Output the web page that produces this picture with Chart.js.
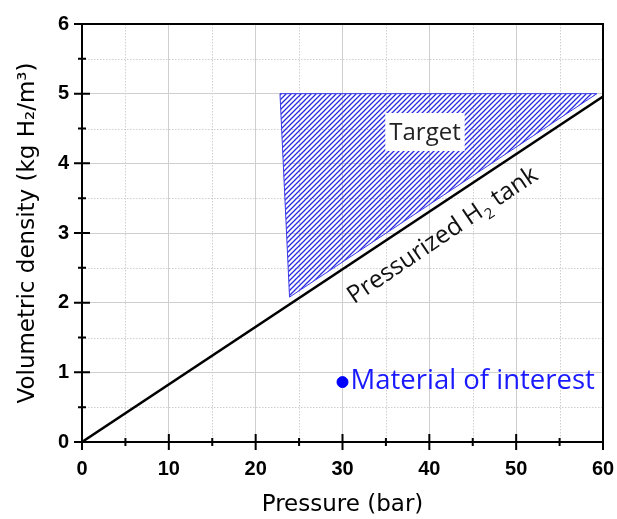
<!DOCTYPE html>
<html lang="en">
<head>
<meta charset="UTF-8">
<title>Volumetric density vs pressure</title>
<script src="https://cdn.jsdelivr.net/npm/chart.js"></script>
<style>
  html, body { margin: 0; padding: 0; background: #fff; }
  #wrap { width: 617px; height: 519px; }
</style>
</head>
<body>
<div id="wrap"><canvas id="densityChart" width="617" height="519"></canvas></div>
<script>
// chart data
const tankPressure = [0, 60];
const tankDensity = [0, 4.96];
const targetPressure = [22.8, 59.3, 23.9, 22.8];
const targetDensity = [5.0, 5.0, 2.08, 5.0];
const materialPressure = [30];
const materialDensity = [0.86];
const xMajorTicks = [0, 10, 20, 30, 40, 50, 60];
const xMinorTicks = [5, 15, 25, 35, 45, 55];
const yMajorTicks = [0, 1, 2, 3, 4, 5, 6];
const yMinorTicks = [0.5, 1.5, 2.5, 3.5, 4.5, 5.5];

const toPoints = (xs, ys) => xs.map((x, i) => ({ x: x, y: ys[i] }));

// hatch pattern for the target region
function hatchPattern() {
    const s = 5;
    const c = document.createElement('canvas');
    c.width = s; c.height = s;
    const g = c.getContext('2d');
    g.strokeStyle = '#2a2ae0';
    g.lineWidth = 1.3;
    g.beginPath();
    g.moveTo(0, s); g.lineTo(s, 0);
    g.moveTo(-1, 1); g.lineTo(1, -1);
    g.moveTo(s - 1, s + 1); g.lineTo(s + 1, s - 1);
    g.stroke();
    return g.createPattern(c, 'repeat');
}

const labelFont = '"Open Sans", "Noto Sans", sans-serif';

// minor grid, frame, ticks and text labels
const decorations = {
    id: 'decorations',
    beforeDatasetsDraw(chart) {
        const { ctx, chartArea: a, scales: { x, y } } = chart;
        ctx.save();
        ctx.strokeStyle = '#cfcfcf';
        ctx.lineWidth = 1;
        ctx.setLineDash([1.5, 1.5]);
        ctx.beginPath();
        xMinorTicks.forEach(v => { const px = Math.round(x.getPixelForValue(v)) + 0.5; ctx.moveTo(px, a.top); ctx.lineTo(px, a.bottom); });
        yMinorTicks.forEach(v => { const py = Math.round(y.getPixelForValue(v)) + 0.5; ctx.moveTo(a.left, py); ctx.lineTo(a.right, py); });
        ctx.stroke();
        ctx.restore();
    },
    afterDatasetsDraw(chart) {
        const { ctx, chartArea: a, scales: { x, y } } = chart;
        ctx.save();
        // frame
        ctx.strokeStyle = '#000';
        ctx.lineWidth = 2;
        ctx.strokeRect(a.left, a.top, a.right - a.left, a.bottom - a.top);
        // ticks crossing the axes
        ctx.beginPath();
        xMajorTicks.forEach(v => { const px = x.getPixelForValue(v); ctx.moveTo(px, a.bottom - 8); ctx.lineTo(px, a.bottom + 8); });
        xMinorTicks.forEach(v => { const px = x.getPixelForValue(v); ctx.moveTo(px, a.bottom - 4); ctx.lineTo(px, a.bottom + 4); });
        yMajorTicks.forEach(v => { const py = y.getPixelForValue(v); ctx.moveTo(a.left - 8, py); ctx.lineTo(a.left + 8, py); });
        yMinorTicks.forEach(v => { const py = y.getPixelForValue(v); ctx.moveTo(a.left - 4, py); ctx.lineTo(a.left + 4, py); });
        ctx.stroke();

        // "Target" label on a white box
        const tx = x.getPixelForValue(39.5), ty = y.getPixelForValue(4.45);
        ctx.font = '24px ' + labelFont;
        const tw = ctx.measureText('Target').width;
        ctx.fillStyle = '#fff';
        ctx.fillRect(tx - tw / 2 - 4, ty - 19, tw + 8, 38);
        ctx.fillStyle = '#222';
        ctx.textAlign = 'center';
        ctx.textBaseline = 'middle';
        ctx.fillText('Target', tx, ty + 1);

        // rotated tank label with subscript, centred on its baseline
        const lx = x.getPixelForValue(42.0), ly = y.getPixelForValue(2.88);
        const ang = Math.atan2(y.getPixelForValue(tankDensity[1]) - y.getPixelForValue(tankDensity[0]),
                               x.getPixelForValue(tankPressure[1]) - x.getPixelForValue(tankPressure[0]));
        const big = '24.5px ' + labelFont;
        const small = '15px ' + labelFont;
        ctx.font = big;
        const w1 = ctx.measureText('Pressurized H').width;
        const w3 = ctx.measureText(' tank').width;
        ctx.font = small;
        const w2 = ctx.measureText('2').width;
        const total = w1 + w2 + w3 + 1;
        ctx.translate(lx, ly);
        ctx.rotate(ang - 0.01);
        ctx.textAlign = 'left';
        ctx.textBaseline = 'alphabetic';
        ctx.fillStyle = '#111';
        let cx = -total / 2;
        ctx.font = big;
        ctx.fillText('Pressurized H', cx, 0); cx += w1 + 1;
        ctx.font = small;
        ctx.fillText('2', cx, 6); cx += w2;
        ctx.font = big;
        ctx.fillText(' tank', cx, 0);
        ctx.setTransform(1, 0, 0, 1, 0, 0);

        // material label
        const mx = x.getPixelForValue(materialPressure[0]), my = y.getPixelForValue(materialDensity[0]);
        ctx.font = '27.5px ' + labelFont;
        ctx.fillStyle = '#1a1aff';
        ctx.textAlign = 'left';
        ctx.textBaseline = 'middle';
        ctx.fillText('Material of interest', mx + 8, my - 1);
        ctx.restore();
    }
};

new Chart(document.getElementById('densityChart'), {
    type: 'scatter',
    data: {
        datasets: [
            {
                label: 'Target',
                data: toPoints(targetPressure, targetDensity),
                showLine: true,
                borderColor: '#3a3ae8',
                borderWidth: 1,
                backgroundColor: hatchPattern(),
                fill: 'shape',
                pointRadius: 0,
                tension: 0,
                order: 3
            },
            {
                label: 'Pressurized H2 tank',
                data: toPoints(tankPressure, tankDensity),
                showLine: true,
                borderColor: '#000',
                borderWidth: 2.5,
                pointRadius: 0,
                fill: false,
                order: 2
            },
            {
                label: 'Material of interest',
                data: toPoints(materialPressure, materialDensity),
                pointRadius: 5.5,
                backgroundColor: '#0000ff',
                borderColor: '#0000ff',
                order: 1
            }
        ]
    },
    options: {
        responsive: false,
        animation: false,
        layout: { padding: { top: 24, right: 14, left: 0, bottom: 0 } },
        plugins: { legend: { display: false }, tooltip: { enabled: false } },
        scales: {
            x: {
                type: 'linear',
                min: 0, max: 60,
                afterBuildTicks: s => { s.ticks = xMajorTicks.map(v => ({ value: v })); },
                afterFit: s => { s.height = 77; s.paddingLeft = 0; s.paddingRight = 0; },
                grid: { color: '#cfcfcf', lineWidth: 1, drawTicks: false },
                border: { display: false },
                ticks: { color: '#000', padding: 15, font: { family: 'Arial, "Liberation Sans"', size: 20, weight: 'bold' } },
                title: { display: true, text: 'Pressure (bar)', color: '#000', padding: { top: 6, bottom: 0 }, font: { family: '"DejaVu Sans"', size: 23 } }
            },
            y: {
                type: 'linear',
                min: 0, max: 6,
                afterBuildTicks: s => { s.ticks = yMajorTicks.map(v => ({ value: v })); },
                afterFit: s => { s.width = 82; s.paddingTop = 0; s.paddingBottom = 0; },
                grid: { color: '#cfcfcf', lineWidth: 1, drawTicks: false },
                border: { display: false },
                ticks: { color: '#000', padding: 13, font: { family: 'Arial, "Liberation Sans"', size: 20, weight: 'bold' } },
                title: { display: true, text: 'Volumetric density (kg H₂/m³)', color: '#000', padding: { top: 14, bottom: 0 }, font: { family: '"DejaVu Sans"', size: 23 } }
            }
        }
    },
    plugins: [decorations]
});
</script>
</body>
</html>
